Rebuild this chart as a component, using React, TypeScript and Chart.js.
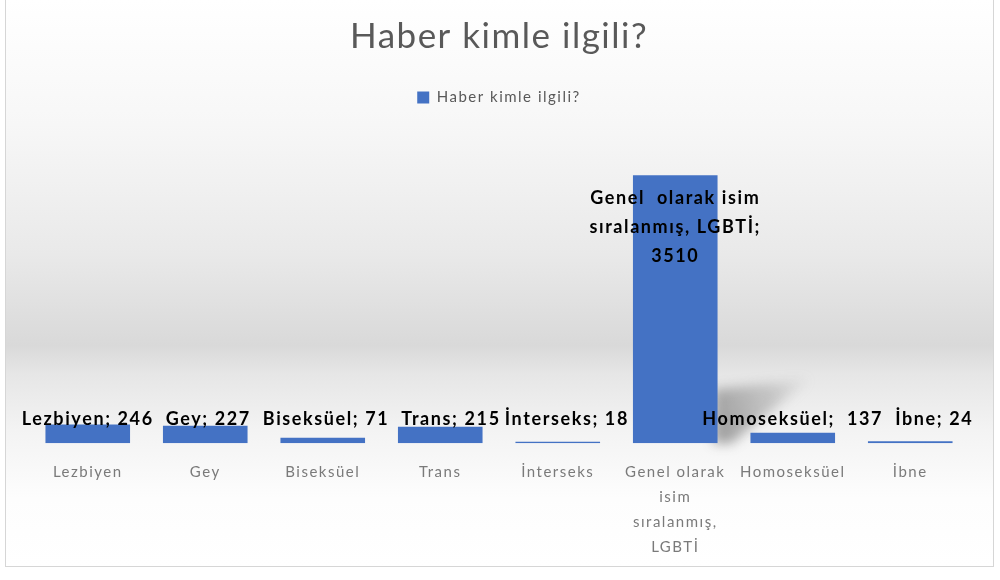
import React, { useRef, useEffect } from "react";
import Chart from "chart.js/auto";

const seriesName = "Haber kimle ilgili?";

const categories: (string | string[])[] = [
    "Lezbiyen",
    "Gey",
    "Biseksüel",
    "Trans",
    "İnterseks",
    ["Genel olarak", "isim", "sıralanmış,", "LGBTİ"],
    "Homoseksüel",
    "İbne",
];

const values = [246, 227, 71, 215, 18, 3510, 137, 24];

const valueLabels: string[][] = [
    ["Lezbiyen; 246"],
    ["Gey; 227"],
    ["Biseksüel; 71"],
    ["Trans; 215"],
    ["İnterseks; 18"],
    ["Genel  olarak isim", "sıralanmış, LGBTİ;", "3510"],
    ["Homoseksüel;  137"],
    ["İbne; 24"],
];

const FONT = "Lato";

// the reference text is a bit wide, so space the letters out
const spacingPlugin = {
    id: "spacing",
    beforeUpdate(chart: any) {
        chart.ctx.letterSpacing = "1.5px";
    },
    beforeDraw(chart: any) {
        chart.ctx.letterSpacing = "1.5px";
    },
};

// soft perspective shadow behind tall bars
const shadowPlugin = {
    id: "barShadow",
    beforeDatasetsDraw(chart: any) {
        const { ctx } = chart;
        const meta = chart.getDatasetMeta(0);
        meta.data.forEach((bar: any) => {
            const h = bar.base - bar.y;
            if (h < 100) return;
            const right = bar.x + bar.width / 2;
            ctx.save();
            ctx.filter = "blur(6px)";
            const g = ctx.createLinearGradient(right, bar.base - 20, right + 92, bar.base - h * 0.24);
            g.addColorStop(0, "rgba(60,60,60,0.45)");
            g.addColorStop(0.6, "rgba(100,100,100,0.28)");
            g.addColorStop(1, "rgba(150,150,150,0.08)");
            ctx.fillStyle = g;
            ctx.beginPath();
            ctx.moveTo(right - 4, bar.base);
            ctx.lineTo(right - 4, bar.base - h * 0.2);
            ctx.lineTo(right + 92, bar.base - h * 0.24);
            ctx.lineTo(right + 14, bar.base);
            ctx.closePath();
            ctx.fill();
            ctx.restore();
        });
    },
};

const valueLabelPlugin = {
    id: "valueLabels",
    afterDatasetsDraw(chart: any) {
        const { ctx } = chart;
        const meta = chart.getDatasetMeta(0);
        const yScale = chart.scales.y;
        ctx.save();
        ctx.font = `bold 18px ${FONT}`;
        ctx.letterSpacing = "1.6px";
        ctx.fillStyle = "#000";
        ctx.textAlign = "center";
        ctx.textBaseline = "middle";
        const bars = meta.data as any[];
        const tall = bars.map((b) => b.base - b.y > 100);
        const widths = valueLabels.map((ls) => Math.max(...ls.map((l) => ctx.measureText(l).width)));
        const cx = bars.map((b) => b.x);
        // forward pass: push a label right when it runs into the previous one
        let prevRight = -Infinity;
        bars.forEach((_b, i) => {
            if (tall[i]) return;
            if (cx[i] - widths[i] / 2 < prevRight + 12) cx[i] = prevRight + 12 + widths[i] / 2;
            prevRight = cx[i] + widths[i] / 2;
        });
        // backward pass: keep labels off a tall bar on their right
        let limit = Infinity;
        for (let i = bars.length - 1; i >= 0; i--) {
            if (tall[i]) {
                limit = bars[i].x - bars[i].width / 2 - 4;
                continue;
            }
            if (cx[i] + widths[i] / 2 > limit) cx[i] = limit - widths[i] / 2;
            limit = cx[i] - widths[i] / 2 - 3;
        }
        bars.forEach((bar, i) => {
            const startY = tall[i] ? bar.y + 23 : yScale.bottom - 24;
            valueLabels[i].forEach((line, j) => {
                ctx.fillText(line, cx[i], startY + j * 29);
            });
        });
        ctx.restore();
    },
};

const App = () => {
    const chartRef = useRef<HTMLCanvasElement>(null);

    useEffect(() => {
        document.body.style.margin = "0";
        const ctx = chartRef.current?.getContext("2d");
        if (!ctx) return;

        const myChart = new Chart(ctx, {
            type: "bar",
            data: {
                labels: categories,
                datasets: [
                    {
                        label: seriesName,
                        data: values,
                        backgroundColor: "#4472C4",
                        borderWidth: 0,
                        categoryPercentage: 1,
                        barPercentage: 0.72,
                    },
                ],
            },
            options: {
                animation: false,
                responsive: true,
                maintainAspectRatio: false,
                layout: {
                    padding: { left: 23, right: 24, top: 0, bottom: 4 },
                },
                plugins: {
                    title: {
                        display: true,
                        text: seriesName,
                        color: "#595959",
                        font: { family: FONT, size: 35, weight: "normal" },
                        padding: { top: 16, bottom: 10 },
                    },
                    legend: {
                        display: true,
                        labels: {
                            color: "#595959",
                            font: { family: FONT, size: 15 },
                            boxWidth: 12,
                            boxHeight: 12,
                            padding: 22,
                        },
                    },
                    tooltip: { enabled: false },
                },
                scales: {
                    x: {
                        grid: { display: false, drawTicks: false },
                        border: { display: false },
                        ticks: {
                            color: "#7a7a7a",
                            font: { family: FONT, size: 15, lineHeight: 1.68 },
                            maxRotation: 0,
                            autoSkip: false,
                            padding: 16,
                        },
                    },
                    y: {
                        min: 0,
                        max: 4300,
                        display: false,
                    },
                },
            },
            plugins: [spacingPlugin, shadowPlugin, valueLabelPlugin],
        });

        return () => {
            myChart.destroy();
        };
    }, []);

    return (
        <div style={{ position: "relative", width: 1000, height: 580, background: "#fff" }}>
            <div
                style={{
                    position: "absolute",
                    left: 5,
                    top: 0,
                    width: 987,
                    height: 566,
                    border: "1px solid #d6d6d6",
                    borderTop: "none",
                    background:
                        "linear-gradient(to bottom, #ffffff 0%, #f7f7f7 22%, #e9e9e9 45%, #d9d9d9 61%, #e6e6e6 66%, #f3f3f3 76%, #fdfdfd 88%, #ffffff 100%)",
                }}
            />
            <div style={{ position: "absolute", left: 6, top: 0, width: 987, height: 580 }}>
                <canvas ref={chartRef}></canvas>
            </div>
        </div>
    );
};

export default App;
